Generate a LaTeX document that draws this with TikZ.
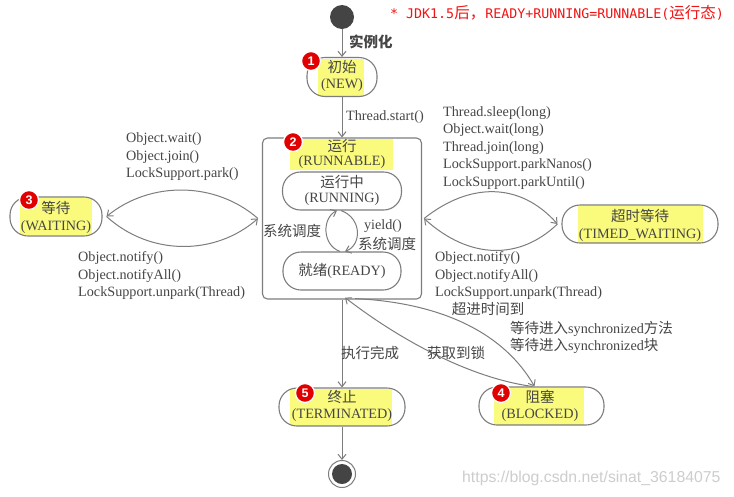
\documentclass[tikz,border=0pt]{standalone}
\usepackage{fontspec}
\setmainfont{Liberation Serif}
\newfontfamily\cjk{Noto Sans CJK SC}
\newfontfamily\monofnt{DejaVu Sans Mono}
\newfontfamily\wmfont{Liberation Sans}
\usetikzlibrary{arrows.meta}
\definecolor{lineg}{RGB}{125,125,125}
\definecolor{txtg}{RGB}{70,70,70}
\definecolor{hlyel}{RGB}{250,250,125}
\definecolor{badgered}{RGB}{225,0,0}
\definecolor{dotfill}{RGB}{68,68,68}
\definecolor{notered}{RGB}{240,20,20}
\definecolor{wmgray}{RGB}{205,205,205}
\newcommand{\zh}[1]{{\cjk\fontsize{14.5}{17.5}\selectfont #1}}
\begin{document}
\begin{tikzpicture}[x=1pt,y=-1pt,
  pill/.style={draw=lineg, line width=1.1pt, rounded corners=18pt, inner sep=0pt},
  lbl/.style={text=txtg, font=\fontsize{14.2}{17.5}\selectfont, inner sep=0pt},
  zhlbl/.style={text=txtg, font=\cjk\fontsize{14.5}{17.5}\selectfont, inner sep=0pt},
  arr/.style={draw=lineg, line width=1pt, -{Straight Barb[length=5pt,width=8pt]}},
  badge/.style={circle, fill=badgered, draw=white, line width=1.3pt, minimum size=19pt, inner sep=0pt, text=white, font=\wmfont\bfseries\fontsize{12.5}{12.5}\selectfont}]
\useasboundingbox (0,0) rectangle (734,496);
\fill[white] (0,0) rectangle (734,496);

% highlights
\fill[hlyel] (318,58.5) rectangle (364,95.5);
\fill[hlyel] (290,139) rectangle (393,170);
\fill[hlyel] (20,198) rectangle (92,235);
\fill[hlyel] (578,206) rectangle (703,242.5);
\fill[hlyel] (494,387.5) rectangle (584,424.5);
\fill[hlyel] (290,388.5) rectangle (392,425.5);

% states
\node[circle, fill=dotfill, minimum size=24pt, inner sep=0pt] (start) at (342,17) {};
\node[pill, minimum width=70pt, minimum height=39pt] (new) at (342,77) {};
\node[draw=lineg, line width=1.1pt, rounded corners=5pt, minimum width=159pt, minimum height=161pt, inner sep=0pt] (runnable) at (342,218.5) {};
\node[pill, minimum width=119pt, minimum height=38pt] (running) at (342,191) {};
\node[pill, minimum width=118pt, minimum height=38pt] (ready) at (342,271) {};
\node[pill, minimum width=92pt, minimum height=39pt] (waiting) at (56,216.5) {};
\node[pill, minimum width=156pt, minimum height=38pt] (timed) at (640,224) {};
\node[pill, minimum width=125pt, minimum height=38pt] (blocked) at (541.5,406) {};
\node[pill, minimum width=126pt, minimum height=38pt] (term) at (342,407) {};
\node[circle, draw=lineg, line width=1pt, fill=white, minimum size=27pt, inner sep=0pt] (endo) at (342,474) {};
\node[circle, fill=dotfill, minimum size=20pt, inner sep=0pt] (endi) at (342,474) {};

% state texts
\node[zhlbl] (tnew1) at (342,67) {初始};
\node[lbl] (tnew2) at (342,85) {(NEW)};
\node[zhlbl] (trun1) at (342,146) {运行};
\node[lbl] (trun2) at (342,162) {(RUNNABLE)};
\node[zhlbl] (tri1) at (342,182) {运行中};
\node[lbl] (tri2) at (342,199.5) {(RUNNING)};
\node[lbl] (trd) at (342,271) {\zh{就绪}(READY)};
\node[zhlbl] (tw1) at (56,208) {等待};
\node[lbl] (tw2) at (56,227) {(WAITING)};
\node[zhlbl] (tt1) at (640,216) {超时等待};
\node[lbl] (tt2) at (640,235) {(TIMED\_WAITING)};
\node[zhlbl] (tb1) at (540,397) {阻塞};
\node[lbl] (tb2) at (540,415) {(BLOCKED)};
\node[zhlbl] (tm1) at (342,397) {终止};
\node[lbl] (tm2) at (342,415) {(TERMINATED)};

% connectors
\draw[arr] (start) -- (new);
\draw[arr] (new.south) -- (runnable.north);
\draw[arr] (runnable.south) -- (term.north);
\draw[arr] (term.south) -- (endo.north);
\draw[arr] ([xshift=-2pt]ready.north) .. controls (322,245) and (322,218) .. ([xshift=-5pt]running.south);
\draw[arr] ([xshift=-1pt]running.south) .. controls (362,218) and (362,245) .. ([xshift=3pt]ready.north);
\draw[arr] ([xshift=-4pt]runnable.west) .. controls (215,181) and (150,181) .. ([xshift=4pt]waiting.east);
\draw[arr] ([xshift=4pt]waiting.east) .. controls (150,256) and (215,256) .. ([xshift=-4pt]runnable.west);
\draw[arr] ([xshift=2pt]runnable.east) .. controls (470,182) and (520,182) .. ([xshift=-4pt]timed.west);
\draw[arr] ([xshift=-4pt]timed.west) .. controls (520,260) and (470,260) .. ([xshift=2pt]runnable.east);
\draw[arr] ([xshift=13pt,yshift=1pt]runnable.south) .. controls (445,303) and (505,335) .. ([xshift=-7pt]blocked.north);
\draw[arr] ([xshift=-9pt]blocked.north) .. controls (470,378) and (400,340) .. ([xshift=3pt,yshift=2pt]runnable.south);

% labels
\node[zhlbl, font=\cjk\bfseries\fontsize{14.5}{17.5}\selectfont, anchor=west] (l0) at (349,42) {实例化};
\node[lbl, anchor=west] (l1) at (346,117) {Thread.start()};
\node[lbl, anchor=west, align=left] (l2) at (126,157) {Object.wait()\\Object.join()\\LockSupport.park()};
\node[lbl, anchor=west, align=left] (l3) at (78,276) {Object.notify()\\Object.notifyAll()\\LockSupport.unpark(Thread)};
\node[lbl, anchor=west, align=left] (l4) at (443,148) {Thread.sleep(long)\\Object.wait(long)\\Thread.join(long)\\LockSupport.parkNanos()\\LockSupport.parkUntil()};
\node[lbl, anchor=west, align=left] (l5) at (435,276) {Object.notify()\\Object.notifyAll()\\LockSupport.unpark(Thread)};
\node[zhlbl] (l6) at (292,231) {系统调度};
\node[lbl] (l7) at (383,226) {yield()};
\node[zhlbl] (l8) at (387,244) {系统调度};
\node[zhlbl] (l9) at (370,353) {执行完成};
\node[zhlbl] (l10) at (456,353) {获取到锁};
\node[zhlbl] (l11) at (488,309) {超进时间到};
\node[lbl, anchor=west, align=left] (l12) at (510,337.5) {\zh{等待进入}synchronized\zh{方法}\\\zh{等待进入}synchronized\zh{块}};

% badges
\node[badge] (b1) at (311,61) {1};
\node[badge] (b2) at (293,142) {2};
\node[badge] (b3) at (29,200) {3};
\node[badge] (b4) at (501,393) {4};
\node[badge] (b5) at (305,393) {5};

% note and watermark
\node[anchor=west, inner sep=0pt, text=notered, font=\monofnt\fontsize{13.3}{15}\selectfont] (note) at (390,13) {* JDK1.5{\cjk\fontsize{15.5}{15}\selectfont 后，}READY+RUNNING=RUNNABLE({\cjk\fontsize{15.5}{15}\selectfont 运行态})};
\node[anchor=west, inner sep=0pt, text=wmgray, font=\wmfont\fontsize{15.8}{17}\selectfont] (wm) at (462,478) {https://blog.csdn.net/sinat\_36184075};
\end{tikzpicture}
\end{document}
